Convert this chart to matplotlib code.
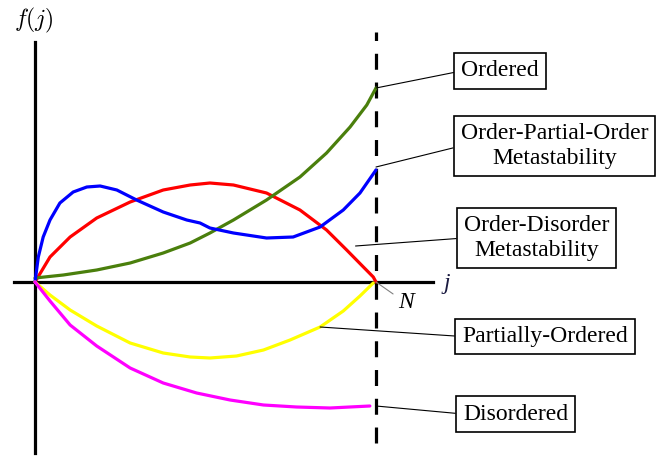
import matplotlib
matplotlib.use('Agg')
import matplotlib.pyplot as plt

plt.rcParams['font.family'] = ['Liberation Serif', 'DejaVu Serif']
plt.rcParams['mathtext.fontset'] = 'cm'

N = 1.0

# j given as fraction of N, f(j) in arbitrary units
ordered_j = [0, 0.083, 0.181, 0.279, 0.376, 0.455, 0.484, 0.513, 0.582, 0.679, 0.777,
             0.855, 0.924, 0.973, 1.0]
ordered_f = [4, 7, 12, 19, 29, 39, 44, 49, 62, 82, 105, 129, 155, 177, 194]

opo_j = [0, 0.0097, 0.024, 0.044, 0.073, 0.112, 0.152, 0.191, 0.24, 0.298, 0.376, 0.445,
         0.484, 0.513, 0.582, 0.679, 0.757, 0.836, 0.904, 0.953, 1.0]
opo_f = [0, 25, 45, 62, 79, 90, 95, 96, 92, 82, 70, 62, 59, 54, 49, 44, 45, 55, 72, 89, 112]

od_j = [0, 0.044, 0.103, 0.181, 0.279, 0.376, 0.455, 0.513, 0.582, 0.679, 0.777, 0.855,
        0.914, 0.963, 0.992, 1.0]
od_f = [0, 25, 45, 64, 80, 92, 97, 99, 97, 89, 72, 52, 32, 15, 5, 0]

partial_j = [0, 0.044, 0.103, 0.181, 0.279, 0.376, 0.455, 0.513, 0.591, 0.67, 0.748,
             0.836, 0.904, 0.953, 0.992]
partial_f = [0, -13, -28, -44, -61, -71, -75, -76, -74, -68, -58, -45, -29, -14, -1]

disorder_j = [0, 0.044, 0.103, 0.181, 0.279, 0.376, 0.474, 0.572, 0.67, 0.767, 0.865, 0.982]
disorder_f = [0, -19, -43, -64, -86, -101, -111, -118, -123, -125, -126, -124]

fig = plt.figure(figsize=(6.72, 4.58), dpi=100)
ax = fig.add_axes([0, 0, 1, 1])
ax.set_xlim(-35 / 341, 637 / 341)
ax.set_ylim(-176, 282)
ax.axis('off')

# axes of the sketch
ax.plot([-0.0616, 1.167], [0, 0], color='black', lw=2.3, zorder=1)
ax.plot([0, 0], [-171, 240], color='black', lw=2.3, zorder=1)
ax.plot([N, N], [-161, 250], color='black', lw=2.3, dashes=(5, 4), zorder=1)

curve = dict(lw=2.3, solid_joinstyle='round', solid_capstyle='round')
ax.plot(ordered_j, ordered_f, color='#4a7f0c', zorder=3, **curve)
ax.plot(opo_j, opo_f, color='#0000ff', zorder=3, **curve)
ax.plot(od_j, od_f, color='#ff0000', zorder=2, **curve)
ax.plot(partial_j, partial_f, color='#ffff00', zorder=3, **curve)
ax.plot(disorder_j, disorder_f, color='#ff00ff', zorder=3, **curve)

H = 458
box = dict(boxstyle='square,pad=0.3', fc='white', ec='black', lw=1.2)
lead = dict(arrowstyle='-', color='black', lw=0.8, relpos=(0, 0.5), shrinkA=0, shrinkB=0)

labels = [
    ('Ordered', (N, ordered_f[-1]), (500, H - 71)),
    ('Order-Partial-Order\nMetastability', (N, opo_f[-1] + 3), (554.5, H - 146)),
    ('Order-Disorder\nMetastability', (0.94, 36), (536.5, H - 238)),
    ('Partially-Ordered', (0.836, -45), (545, H - 336.5)),
    ('Disordered', (N, disorder_f[-1]), (515.5, H - 414)),
]
for txt, xy, pos in labels:
    ax.annotate(txt, xy=xy, xytext=pos, textcoords='figure pixels',
                ha='center', va='center', multialignment='center',
                fontsize=17, bbox=box, arrowprops=lead, zorder=5)

ax.annotate('N', xy=(N, 0), xytext=(406, H - 303), textcoords='figure pixels',
            ha='center', va='center', fontsize=17, style='italic',
            arrowprops=dict(arrowstyle='-', color='gray', lw=0.8, shrinkA=2, shrinkB=0))
fig.text(447 / 672, 1 - 284 / H, 'j', ha='center', va='center', fontsize=17,
         style='italic', color='#1a1a40')
fig.text(34 / 672, 1 - 20 / H, r'$f(j)$', ha='center', va='center', fontsize=17)

fig.savefig('out.png', dpi=100)
